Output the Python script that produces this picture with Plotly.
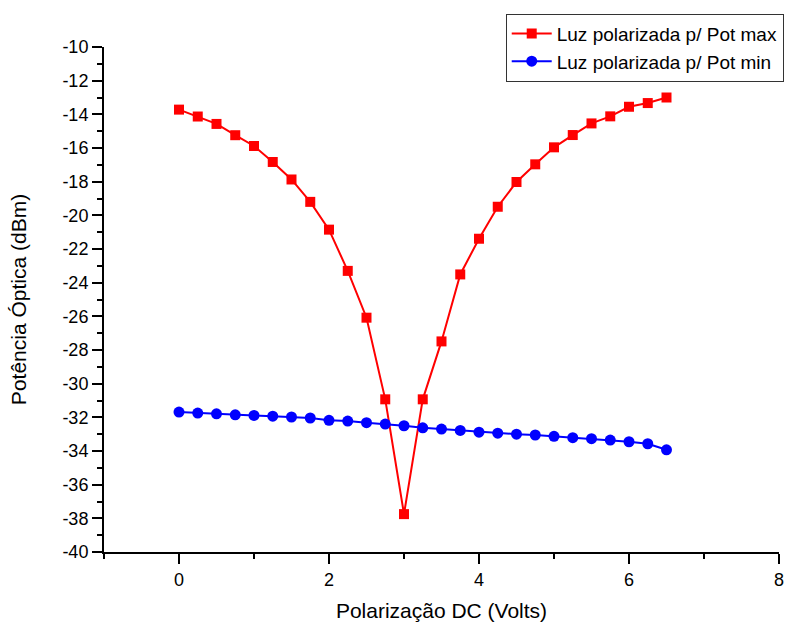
import plotly.graph_objects as go

# Tensão de polarização DC (V)
bias_volts = [0, 0.25, 0.5, 0.75, 1, 1.25, 1.5, 1.75, 2, 2.25, 2.5, 2.75, 3,
              3.25, 3.5, 3.75, 4, 4.25, 4.5, 4.75, 5, 5.25, 5.5, 5.75, 6, 6.25, 6.5]

# Potência óptica medida (dBm)
pot_max = [-13.72, -14.13, -14.57, -15.24, -15.88, -16.83, -17.87, -19.2, -20.85,
           -23.3, -26.08, -30.93, -37.75, -30.93, -27.49, -23.51, -21.39, -19.49,
           -18.02, -16.97, -15.96, -15.23, -14.54, -14.12, -13.55, -13.33, -13.0]
pot_min = [-31.69, -31.75, -31.79, -31.85, -31.89, -31.93, -31.98, -32.04, -32.18,
           -32.22, -32.32, -32.40, -32.50, -32.62, -32.70, -32.78, -32.88, -32.94,
           -33.0, -33.05, -33.13, -33.21, -33.27, -33.35, -33.45, -33.57, -33.93]

series_names = ["Luz polarizada p/ Pot max", "Luz polarizada p/ Pot min"]

# Marcas dos eixos
x_ticks = [0, 2, 4, 6, 8]
y_ticks = list(range(-40, -9, 2))
y_tick_text = [f"{v}" for v in y_ticks]

font_family = "Liberation Sans, Arial, sans-serif"

fig = go.Figure()
fig.add_trace(go.Scatter(
    x=bias_volts, y=pot_max, name=series_names[0], mode="lines+markers",
    line=dict(color="#ff0000", width=2),
    marker=dict(symbol="square", size=10, color="#ff0000"),
))
fig.add_trace(go.Scatter(
    x=bias_volts, y=pot_min, name=series_names[1], mode="lines+markers",
    line=dict(color="#0000ff", width=2),
    marker=dict(symbol="circle", size=11, color="#0000ff"),
))

axis_common = dict(
    showline=True, linecolor="black", linewidth=2,
    ticks="outside", ticklen=10, tickwidth=2, tickcolor="black",
    showgrid=False, zeroline=False, mirror=False, automargin=False,
    tickfont=dict(family=font_family, size=18, color="black"),
)

fig.update_xaxes(
    range=[-1, 8], tickvals=x_ticks, ticktext=[str(v) for v in x_ticks],
    minor=dict(ticks="outside", ticklen=5, tickwidth=2, tickcolor="black", dtick=1, tick0=0),
    title=dict(text="Polarização DC (Volts)", font=dict(family=font_family, size=21, color="black"),
               standoff=15),
    **axis_common,
)
fig.update_yaxes(
    range=[-40, -10], tickvals=y_ticks, ticktext=y_tick_text,
    minor=dict(ticks="outside", ticklen=5, tickwidth=2, tickcolor="black", dtick=1, tick0=0),
    title=dict(text="Potência Óptica (dBm)", font=dict(family=font_family, size=21, color="black"),
               standoff=30),
    **axis_common,
)

fig.update_layout(
    width=787, height=624,
    margin=dict(l=104, r=3, t=47, b=72),
    plot_bgcolor="white", paper_bgcolor="white",
    showlegend=True,
    legend=dict(
        x=1.007, xanchor="right", y=1.066, yanchor="top",
        bordercolor="#333333", borderwidth=1, bgcolor="white",
        font=dict(family=font_family, size=19, color="black"),
        tracegroupgap=0, itemwidth=40,
    ),
)

fig.write_html("out.html")
